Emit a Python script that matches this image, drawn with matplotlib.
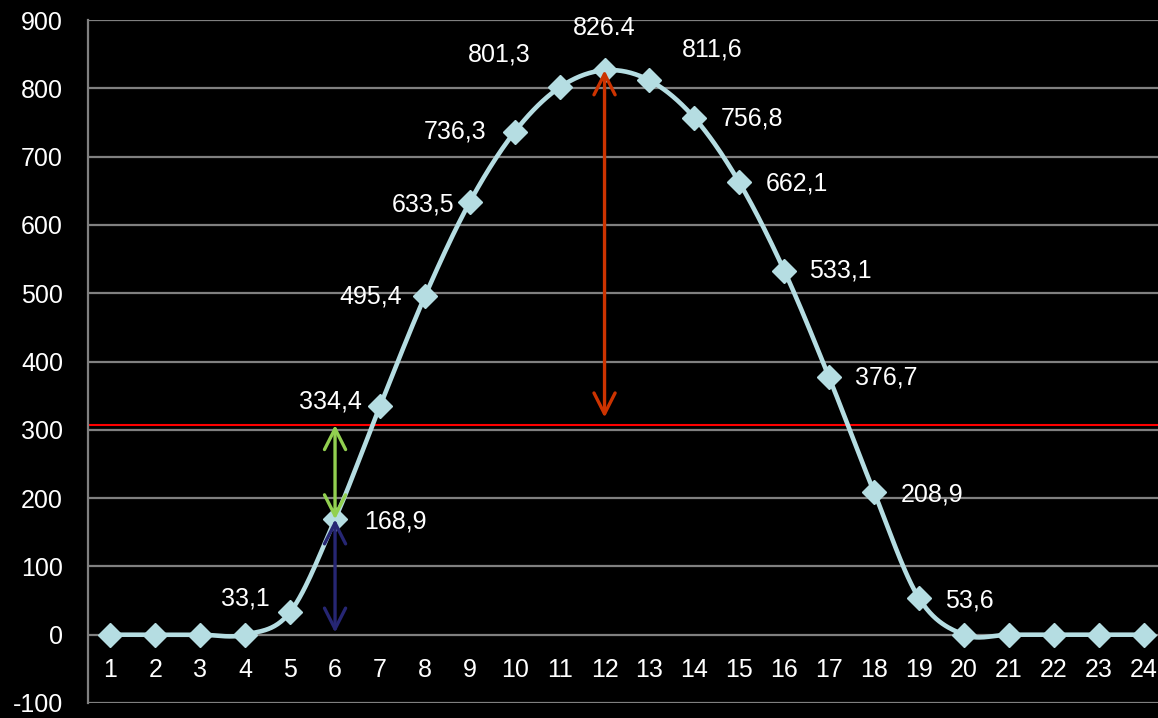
import numpy as np
import matplotlib.pyplot as plt
from matplotlib.patches import FancyArrowPatch

plt.rcParams['font.family'] = ['Liberation Sans', 'DejaVu Sans']
plt.rcParams['axes.unicode_minus'] = False

hours = list(range(1, 25))
values = [0, 0, 0, 0, 33.1, 168.9, 334.4, 495.4, 633.5, 736.3, 801.3, 826.4,
          811.6, 756.8, 662.1, 533.1, 376.7, 208.9, 53.6, 0, 0, 0, 0, 0]
labelled = list(range(5, 20))
threshold = 307
peak_arrow_bottom = 318

# label offsets in pixels (dx, dy) relative to the marker
offsets = {5: (-45, 14), 6: (60, -2), 7: (-50, 5), 8: (-54, 0), 9: (-47, -2),
           10: (-60, 0), 11: (-60, 33), 12: (0, 42), 13: (63, 31), 14: (58, -1),
           15: (58, -1), 16: (56, 0), 17: (57, 0), 18: (58, -2), 19: (50, -2)}


def smooth(x, y, n=30):
    # bezier segments with catmull-rom style control points
    x = np.asarray(x, float)
    y = np.asarray(y, float)
    pts = np.column_stack([x, y])
    ext = np.vstack([pts[0], pts, pts[-1]])
    out = []
    t = np.linspace(0, 1, n)[:, None]
    for i in range(len(pts) - 1):
        p0, p3 = ext[i + 1], ext[i + 2]
        p1 = p0 + (ext[i + 2] - ext[i]) / 6
        p2 = p3 - (ext[i + 3] - ext[i + 1]) / 6
        seg = ((1 - t) ** 3) * p0 + 3 * ((1 - t) ** 2) * t * p1 + 3 * (1 - t) * t ** 2 * p2 + t ** 3 * p3
        out.append(seg if i == 0 else seg[1:])
    out = np.vstack(out)
    return out[:, 0], out[:, 1]


fig = plt.figure(figsize=(11.58, 7.18), dpi=100, facecolor='black')
ax = fig.add_axes([88 / 1158, 1 - 703 / 718, 1078 / 1158, 683 / 718])
ax.set_facecolor('black')

ax.set_xlim(0.5, 24.5)
ax.set_ylim(-100, 900)
ax.set_yticks(range(-100, 901, 100))
ax.grid(axis='y', color='#808080', linewidth=1.6)
ax.set_axisbelow(True)
for s in ['top', 'right', 'bottom']:
    ax.spines[s].set_visible(False)
ax.spines['left'].set_color('#808080')
ax.spines['left'].set_linewidth(1.6)
ax.tick_params(axis='y', length=0, pad=18, labelsize=18, labelcolor='white')

# category labels sit just under the zero line
ax.set_xticks(hours)
ax.spines['bottom'].set_position(('data', 0))
ax.tick_params(axis='x', length=0, pad=17, labelsize=18, labelcolor='white')

ax.axhline(threshold, color='#FF0000', linewidth=1.5, zorder=2)

sx, sy = smooth(hours, values)
ax.plot(sx, sy, color='#B5DDE2', linewidth=3.3, zorder=3, solid_capstyle='round')
ax.plot(hours, values, linestyle='none', marker='D', markersize=12.5,
        color='#B5DDE2', zorder=4)

for h in labelled:
    v = values[h - 1]
    sep = '.' if h == 12 else ','
    txt = f'{v:.1f}'.replace('.', sep)
    dx, dy = offsets[h]
    ax.annotate(txt, (h, v), xytext=(dx, dy), textcoords='offset pixels',
                ha='center', va='center', color='white', fontsize=18, zorder=5)


def double_arrow(x, y0, y1, color):
    arr = FancyArrowPatch((x, y0), (x, y1),
                          arrowstyle='<->,head_length=0.75,head_width=0.38',
                          mutation_scale=20, color=color, linewidth=2.4,
                          shrinkA=0, shrinkB=0, zorder=6)
    ax.add_patch(arr)


double_arrow(12, values[11], peak_arrow_bottom, '#CC3300')
double_arrow(6, threshold, values[5], '#92D050')
double_arrow(6, values[5], 3, '#262673')

fig.savefig('out.png', dpi=100, facecolor='black')
